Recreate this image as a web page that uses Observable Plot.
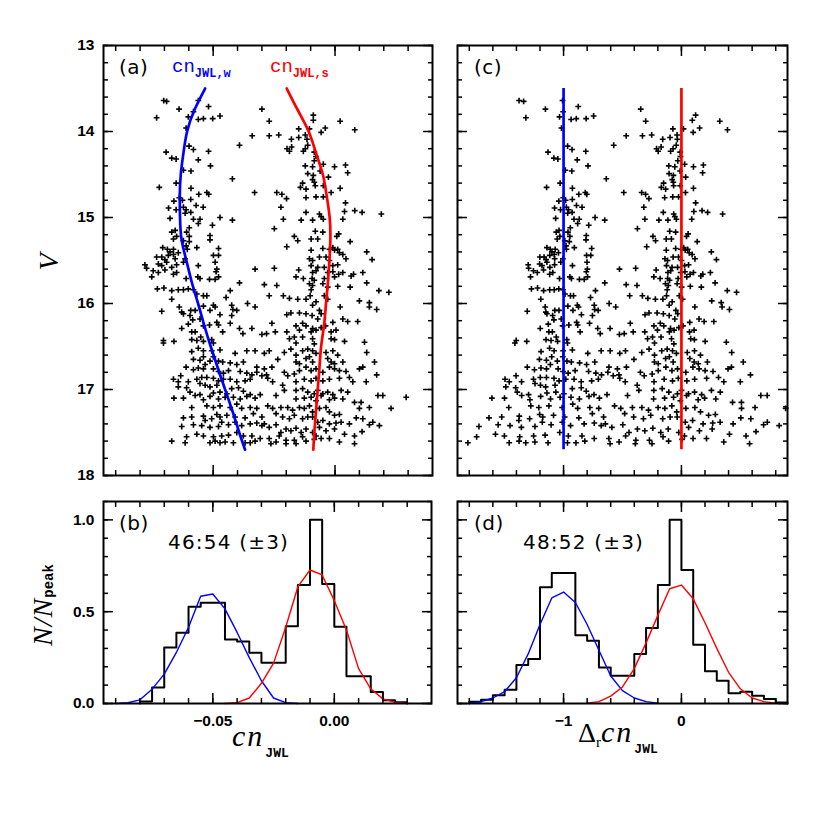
<!DOCTYPE html>
<html><head><meta charset="utf-8">
<script src="https://cdn.jsdelivr.net/npm/d3@7"></script>
<script src="https://cdn.jsdelivr.net/npm/@observablehq/plot@0.6"></script>
<style>
body{margin:0;background:#fff;}
#wrap{position:relative;width:830px;height:830px;background:#fff;}
.panel{position:absolute;}
.panel svg{max-width:none !important;}
#overlay{position:absolute;left:0;top:0;pointer-events:none;}
</style></head><body><div id="wrap"></div>
<script>
// ---------- DATA ----------
// Stars of panel (a): [cn_JWL, V]
const starsA = [
[-0.0703,13.64],[-0.0691,13.65],[-0.0640,13.74],[-0.0561,13.64],[-0.0519,13.71],[-0.0581,13.77],[-0.0732,13.84],[-0.0602,13.83],[-0.0561,13.86],[-0.0540,13.85],[-0.0502,13.85],[-0.0472,13.82],[-0.0300,13.74],[-0.0611,13.96],[-0.0340,14.05],[-0.0392,14.16],[-0.0599,14.17],[-0.0581,14.21],[-0.0693,14.24],[-0.0519,14.23],[-0.0670,14.31],[-0.0652,14.32],[-0.0561,14.33],[-0.0511,14.40],[-0.0622,14.45],[-0.0591,14.46],[-0.0421,14.55],[-0.0652,14.60],[-0.0721,14.65],[-0.0591,14.66],[-0.0559,14.73],[-0.0526,14.71],[-0.0518,14.73],[-0.0330,14.71],[-0.0639,14.77],[-0.0661,14.81],[-0.0626,14.80],[-0.0592,14.79],[-0.0683,14.89],[-0.0652,14.91],[-0.0622,14.88],[-0.0611,14.91],[-0.0570,14.86],[-0.0541,14.88],[-0.0592,14.94],[-0.0615,14.95],
[-0.0270,13.88],[-0.0270,14.05],[-0.0231,14.04],[-0.0089,13.81],[-0.0089,13.87],[0.0021,13.88],[-0.0149,13.97],[-0.0105,13.97],[-0.0040,13.96],[-0.0057,14.01],[0.0081,13.98],[-0.0179,14.09],[-0.0149,14.07],[-0.0122,14.04],[-0.0115,14.09],[-0.0197,14.20],[-0.0187,14.23],[-0.0178,14.18],[-0.0130,14.23],[-0.0122,14.20],[-0.0112,14.16],[-0.0085,14.24],[-0.0078,14.29],[-0.0085,14.34],[-0.0122,14.40],[-0.0048,14.38],[-0.0002,14.41],[0.0043,14.39],[-0.0092,14.41],[-0.0061,14.46],[0.0052,14.48],[-0.0112,14.49],[-0.0089,14.51],[-0.0027,14.53],[-0.0133,14.60],[-0.0085,14.59],[-0.0081,14.63],[-0.0092,14.56],[-0.0048,14.63],[0.0021,14.66],[-0.0142,14.65],[-0.0119,14.67],[-0.0239,14.71],[-0.0218,14.73],[-0.0199,14.78],[-0.0119,14.77],[-0.0078,14.76],[-0.0016,14.71],[-0.0048,14.76],[0.0043,14.83],[-0.0222,14.88],[-0.0119,14.94],[-0.0064,14.96],[0.0039,14.93],[0.0081,14.92],[0.0111,14.94],[0.0190,14.96],
[-0.0677,15.01],[-0.0581,15.02],[-0.0554,15.02],[-0.0472,15.00],[-0.0421,15.03],[-0.0598,15.12],[-0.0561,15.07],[-0.0503,15.09],[-0.0670,15.17],[-0.0656,15.15],[-0.0650,15.22],[-0.0663,15.25],[-0.0609,15.17],[-0.0598,15.22],[-0.0513,15.21],[-0.0513,15.26],[-0.0622,15.27],[-0.0598,15.28],[-0.0611,15.33],[-0.0707,15.35],[-0.0688,15.37],[-0.0677,15.40],[-0.0663,15.37],[-0.0643,15.41],[-0.0606,15.37],[-0.0567,15.35],[-0.0478,15.36],[-0.0732,15.46],[-0.0711,15.46],[-0.0698,15.49],[-0.0684,15.44],[-0.0663,15.43],[-0.0656,15.48],[-0.0615,15.48],[-0.0499,15.44],[-0.0478,15.44],[-0.0780,15.55],[-0.0773,15.59],[-0.0725,15.54],[-0.0711,15.56],[-0.0691,15.52],[-0.0670,15.58],[-0.0650,15.55],[-0.0622,15.52],[-0.0561,15.56],[-0.0492,15.52],[-0.0485,15.60],[-0.0746,15.62],[-0.0725,15.64],[-0.0698,15.61],[-0.0663,15.66],[-0.0650,15.64],[-0.0488,15.63],[-0.0752,15.69],[-0.0611,15.71],[-0.0563,15.69],[-0.0554,15.71],[-0.0515,15.72],[-0.0492,15.72],[-0.0478,15.69],[-0.0729,15.83],[-0.0702,15.82],[-0.0670,15.85],[-0.0643,15.84],[-0.0622,15.84],[-0.0602,15.83],[-0.0581,15.84],[-0.0567,15.89],[-0.0670,15.95],[-0.0540,15.91],[-0.0526,15.91],[-0.0447,15.93],[-0.0430,15.85],[-0.0392,15.76],[-0.0328,15.60],[-0.0711,16.09],[-0.0639,16.04],[-0.0629,16.10],[-0.0622,16.12],[-0.0592,16.08],[-0.0574,16.08],[-0.0540,16.03],[-0.0513,16.08],[-0.0499,16.02],[-0.0492,16.04],[-0.0472,16.13],[-0.0424,16.02],[-0.0419,16.07],[-0.0359,16.00],[-0.0328,16.04],[-0.0629,16.29],[-0.0602,16.24],[-0.0595,16.14],[-0.0584,16.19],[-0.0588,16.33],[-0.0574,16.33],[-0.0554,16.18],[-0.0540,16.26],[-0.0515,16.25],[-0.0485,16.22],[-0.0478,16.25],[-0.0461,16.33],[-0.0430,16.23],[-0.0424,16.14],[-0.0403,16.08],[-0.0392,16.29],[-0.0378,16.35],[-0.0341,16.29],[-0.0300,16.36],
[-0.0212,15.02],[-0.0139,15.03],[-0.0092,15.03],[-0.0057,14.99],[-0.0048,15.02],[0.0032,15.02],[-0.0249,15.13],[-0.0167,15.22],[-0.0153,15.27],[-0.0081,15.16],[-0.0050,15.17],[-0.0098,15.25],[-0.0071,15.25],[0.0015,15.19],[0.0062,15.28],[0.0007,15.22],[-0.0198,15.34],[-0.0098,15.38],[-0.0050,15.36],[-0.0023,15.37],[-0.0009,15.35],[0.0011,15.37],[0.0018,15.41],[-0.0002,15.38],[0.0032,15.43],[0.0045,15.48],[0.0130,15.40],[0.0152,15.49],[-0.0105,15.48],[-0.0092,15.50],[-0.0064,15.46],[-0.0037,15.46],[-0.0023,15.50],[-0.0044,15.58],[-0.0071,15.58],[-0.0009,15.56],[0.0011,15.55],[-0.0098,15.56],[-0.0249,15.59],[-0.0149,15.61],[-0.0092,15.64],[-0.0078,15.62],[-0.0030,15.64],[-0.0009,15.63],[0.0015,15.66],[0.0032,15.64],[0.0066,15.68],[0.0076,15.66],[0.0114,15.64],[-0.0160,15.69],[-0.0130,15.71],[-0.0094,15.71],[-0.0085,15.73],[-0.0044,15.71],[-0.0002,15.69],[-0.0290,15.78],[-0.0239,15.79],[-0.0105,15.77],[-0.0092,15.79],[-0.0098,15.84],[-0.0050,15.77],[-0.0030,15.81],[0.0011,15.80],[0.0062,15.81],[0.0130,15.76],[0.0180,15.85],[0.0221,15.87],[-0.0270,15.91],[-0.0212,15.91],[-0.0187,15.94],[-0.0153,15.95],[-0.0119,15.95],[-0.0102,15.91],[-0.0078,15.98],[-0.0092,16.02],[-0.0044,15.91],[-0.0030,15.95],[0.0021,16.04],[0.0100,15.97],[0.0141,15.99],[0.0141,16.04],[0.0171,16.07],[-0.0198,16.13],[-0.0181,16.11],[-0.0146,16.11],[-0.0119,16.12],[-0.0064,16.08],[-0.0057,16.12],[-0.0094,16.14],[-0.0071,16.18],[-0.0009,16.22],[0.0032,16.18],[0.0052,16.21],[0.0093,16.21],[-0.0281,16.35],[-0.0259,16.23],[-0.0245,16.33],[-0.0198,16.33],[-0.0160,16.26],[-0.0133,16.23],[-0.0146,16.31],[-0.0119,16.26],[-0.0092,16.29],[-0.0098,16.33],[-0.0078,16.31],[-0.0057,16.28],[-0.0039,16.26],[-0.0016,16.33],[0.0004,16.31],
[-0.0704,16.43],[-0.0704,16.46],[-0.0661,16.44],[-0.0588,16.42],[-0.0567,16.43],[-0.0551,16.39],[-0.0540,16.44],[-0.0499,16.46],[-0.0506,16.42],[-0.0472,16.54],[-0.0506,16.55],[-0.0588,16.56],[-0.0561,16.52],[-0.0540,16.55],[-0.0410,16.58],[-0.0362,16.55],[-0.0328,16.55],[-0.0581,16.65],[-0.0554,16.66],[-0.0540,16.62],[-0.0533,16.71],[-0.0513,16.67],[-0.0499,16.62],[-0.0478,16.67],[-0.0461,16.68],[-0.0430,16.69],[-0.0403,16.71],[-0.0376,16.68],[-0.0321,16.74],[-0.0611,16.74],[-0.0581,16.77],[-0.0561,16.75],[-0.0540,16.76],[-0.0499,16.76],[-0.0478,16.79],[-0.0458,16.81],[-0.0437,16.78],[-0.0389,16.79],[-0.0362,16.81],[-0.0341,16.83],[-0.0321,16.80],[-0.0300,16.84],[-0.0663,16.88],[-0.0643,16.91],[-0.0633,16.84],[-0.0602,16.91],[-0.0567,16.88],[-0.0547,16.86],[-0.0526,16.86],[-0.0499,16.87],[-0.0478,16.90],[-0.0458,16.88],[-0.0430,16.88],[-0.0403,16.91],[-0.0369,16.90],[-0.0348,16.88],[-0.0609,16.98],[-0.0554,16.93],[-0.0533,16.95],[-0.0513,16.97],[-0.0485,16.95],[-0.0499,17.04],[-0.0472,17.03],[-0.0444,17.05],[-0.0424,16.99],[-0.0396,16.98],[-0.0376,17.02],[-0.0348,17.06],[-0.0328,17.10],[-0.0307,17.06],[-0.0661,17.10],[-0.0622,17.10],[-0.0574,17.07],[-0.0554,17.06],[-0.0540,17.12],[-0.0513,17.08],[-0.0478,17.11],[-0.0451,17.09],[-0.0417,17.09],[-0.0389,17.11],[-0.0362,17.08],[-0.0588,17.21],[-0.0526,17.19],[-0.0499,17.21],[-0.0472,17.19],[-0.0430,17.21],[-0.0403,17.17],[-0.0383,17.22],[-0.0348,17.21],[-0.0321,17.22],[-0.0622,17.33],[-0.0588,17.32],[-0.0540,17.31],[-0.0533,17.36],[-0.0506,17.34],[-0.0485,17.29],[-0.0472,17.32],[-0.0444,17.30],[-0.0410,17.32],[-0.0369,17.33],[-0.0335,17.28],[-0.0300,17.32],[-0.0629,17.43],[-0.0581,17.41],[-0.0547,17.42],[-0.0513,17.44],[-0.0478,17.43],[-0.0465,17.38],[-0.0437,17.41],[-0.0410,17.38],[-0.0383,17.42],[-0.0348,17.40],[-0.0321,17.39],[-0.0300,17.42],[-0.0609,17.55],[-0.0567,17.52],[-0.0540,17.54],[-0.0499,17.55],[-0.0465,17.54],[-0.0437,17.53],[-0.0403,17.50],[-0.0376,17.54],[-0.0341,17.54],[-0.0307,17.57],[-0.0670,17.60],[-0.0615,17.62],[-0.0513,17.62],[-0.0492,17.60],[-0.0472,17.62],[-0.0451,17.61],[-0.0417,17.62],[-0.0369,17.62],[-0.0348,17.62],[-0.0328,17.60],[-0.0643,16.97],[-0.0595,17.03],
[-0.0187,16.41],[-0.0167,16.39],[-0.0160,16.46],[-0.0133,16.39],[-0.0092,16.41],[-0.0085,16.47],[-0.0016,16.41],[-0.0002,16.42],[0.0039,16.44],[0.0121,16.45],[-0.0290,16.58],[-0.0270,16.55],[-0.0235,16.65],[-0.0208,16.57],[-0.0181,16.53],[-0.0160,16.60],[-0.0133,16.55],[-0.0112,16.53],[-0.0092,16.55],[-0.0078,16.58],[-0.0037,16.57],[-0.0009,16.55],[0.0011,16.60],[0.0130,16.57],[-0.0259,16.74],[-0.0160,16.68],[-0.0146,16.70],[-0.0119,16.64],[-0.0105,16.62],[-0.0092,16.68],[-0.0030,16.64],[-0.0016,16.68],[-0.0002,16.70],[0.0032,16.68],[0.0162,16.68],[-0.0290,16.76],[-0.0281,16.83],[-0.0208,16.80],[-0.0194,16.84],[-0.0167,16.82],[-0.0146,16.78],[-0.0119,16.74],[-0.0098,16.78],[-0.0078,16.76],[-0.0050,16.80],[-0.0023,16.74],[-0.0002,16.76],[0.0018,16.78],[0.0045,16.79],[0.0100,16.76],[0.0114,16.74],[0.0171,16.83],[-0.0276,16.87],[-0.0256,16.91],[-0.0215,16.95],[-0.0160,16.91],[-0.0126,16.88],[-0.0098,16.90],[-0.0078,16.87],[-0.0050,16.90],[-0.0023,16.88],[0.0018,16.87],[0.0059,16.86],[0.0073,16.91],[0.0128,16.91],[-0.0208,17.01],[-0.0160,17.01],[-0.0133,16.99],[-0.0112,17.03],[-0.0085,17.05],[-0.0071,17.01],[-0.0050,17.05],[-0.0030,17.03],[-0.0009,17.06],[0.0025,17.01],[0.0052,17.03],[-0.0242,17.07],[-0.0160,17.11],[-0.0126,17.10],[-0.0098,17.09],[-0.0078,17.13],[-0.0057,17.07],[-0.0023,17.12],[-0.0002,17.10],[0.0032,17.11],[0.0080,17.15],[0.0107,17.15],[0.0176,17.07],[0.0196,17.07],[0.0292,17.09],[0.0230,17.22],[-0.0276,17.19],[-0.0256,17.22],[-0.0242,17.28],[-0.0222,17.21],[-0.0194,17.21],[-0.0174,17.24],[-0.0146,17.21],[-0.0126,17.22],[-0.0105,17.19],[-0.0092,17.26],[-0.0064,17.22],[-0.0037,17.21],[-0.0023,17.26],[-0.0002,17.30],[0.0018,17.29],[0.0100,17.22],[0.0141,17.21],[-0.0215,17.32],[-0.0187,17.34],[-0.0167,17.30],[-0.0133,17.34],[-0.0112,17.32],[-0.0092,17.32],[-0.0071,17.38],[-0.0050,17.36],[-0.0023,17.40],[0.0004,17.39],[0.0025,17.38],[0.0059,17.40],[0.0087,17.33],[0.0114,17.34],[0.0155,17.38],[0.0182,17.42],[-0.0290,17.40],[-0.0270,17.44],[-0.0242,17.41],[-0.0222,17.50],[-0.0201,17.46],[-0.0181,17.48],[-0.0160,17.45],[-0.0139,17.50],[-0.0119,17.46],[-0.0092,17.50],[-0.0064,17.44],[-0.0037,17.48],[-0.0002,17.46],[0.0039,17.52],[0.0080,17.54],[0.0111,17.49],[0.0141,17.41],[-0.0270,17.57],[-0.0263,17.63],[-0.0242,17.61],[-0.0229,17.54],[-0.0201,17.59],[-0.0201,17.63],[-0.0167,17.59],[-0.0160,17.63],[-0.0133,17.55],[-0.0119,17.60],[-0.0078,17.54],[-0.0085,17.58],[-0.0057,17.57],[-0.0023,17.57],[0.0018,17.61],[0.0080,17.63]
];

// Fiducial lines (V, cn of the weak and strong sequences)
const fidV = [13.5,13.75,14.0,14.25,14.5,14.75,15.0,15.25,15.5,15.75,16.0,16.25,16.5,16.75,17.0,17.25,17.5,17.7];
const fidW = [-0.0533,-0.0577,-0.0607,-0.0622,-0.0633,-0.0637,-0.0636,-0.0630,-0.0610,-0.0588,-0.0562,-0.0537,-0.0510,-0.0481,-0.0451,-0.0421,-0.0393,-0.0369];
const fidS = [-0.0198,-0.0153,-0.0108,-0.0078,-0.0050,-0.0034,-0.0022,-0.0019,-0.0023,-0.0029,-0.0037,-0.0045,-0.0057,-0.0064,-0.0071,-0.0078,-0.0085,-0.0089];

// Histogram (b): bins of 0.005 starting at -0.080
const histBStart = -0.080, histBWidth = 0.005;
const histB = [0.011,0.087,0.305,0.385,0.527,0.549,0.549,0.349,0.338,0.276,0.222,0.222,0.420,0.645,1.000,0.651,0.418,0.149,0.149,0.062,0.018,0.007];
// Gaussian fits (b)
const gaussBlueBx = [-0.090,-0.085,-0.080,-0.075,-0.070,-0.065,-0.060,-0.055,-0.050,-0.045,-0.040,-0.035,-0.030,-0.025,-0.020,-0.015];
const gaussBlueBy = [0.000,0.004,0.020,0.078,0.160,0.278,0.415,0.584,0.596,0.515,0.387,0.250,0.124,0.030,0.005,0.000];
const gaussRedBx = [-0.045,-0.040,-0.035,-0.030,-0.025,-0.020,-0.015,-0.010,-0.005,0.000,0.005,0.010,0.015,0.020,0.025,0.030];
const gaussRedBy = [0.000,0.005,0.030,0.110,0.220,0.415,0.636,0.727,0.700,0.560,0.400,0.190,0.080,0.025,0.006,0.000];

// Histogram (d): bins of 0.1 starting at -1.8
const histDStart = -1.8, histDWidth = 0.1;
const histD = [0.009,0.020,0.045,0.075,0.209,0.242,0.633,0.711,0.711,0.371,0.342,0.196,0.151,0.151,0.269,0.411,0.645,1.000,0.727,0.320,0.175,0.124,0.056,0.064,0.042,0.024,0.005];
const gaussBlueDx = [-1.8,-1.7,-1.6,-1.5,-1.4,-1.3,-1.2,-1.1,-1.0,-0.9,-0.8,-0.7,-0.6,-0.5,-0.4,-0.3,-0.2];
const gaussBlueDy = [0.003,0.010,0.030,0.065,0.140,0.270,0.430,0.575,0.607,0.550,0.430,0.290,0.150,0.070,0.030,0.010,0.002];
const gaussRedDx = [-0.8,-0.7,-0.6,-0.5,-0.4,-0.3,-0.2,-0.1,0.0,0.1,0.2,0.3,0.4,0.5,0.6,0.7,0.8];
const gaussRedDy = [0.002,0.010,0.040,0.090,0.190,0.330,0.480,0.625,0.645,0.570,0.440,0.300,0.170,0.080,0.030,0.010,0.002];

// Ticks
const vMajor = [13,14,15,16,17,18];
const nMajor = [0,0.5,1.0];
const nLabels = ["0.0","0.5","1.0"];
const cnMajor = [-0.05,0];
const cnLabels = ["\u22120.05","0.00"];
const dMajor = [-1,0];
const dLabels = ["\u22121","0"];
const vMinor = d3.range(13,18.001,0.2);
const nMinor = d3.range(0,1.101,0.1);
const cnMinor = d3.range(-0.09,0.0301,0.01);
const dMinor = d3.range(-1.8,0.801,0.2);

// ---------- HELPERS ----------
const BLUE = "#0000ff", RED = "#ff0000";
const plusSymbol = {draw(ctx, size){ const r = Math.sqrt(size/Math.PI); ctx.moveTo(-r,0); ctx.lineTo(r,0); ctx.moveTo(0,-r); ctx.lineTo(0,r); }};
function interp(xs, ys, x){
  if (x <= xs[0]) return ys[0];
  for (let i = 1; i < xs.length; i++) if (x <= xs[i]) { const t = (x - xs[i-1])/(xs[i]-xs[i-1]); return ys[i-1] + t*(ys[i]-ys[i-1]); }
  return ys[ys.length-1];
}
function stepPts(start, w, hs){
  const p = [{x:start, y:0}];
  hs.forEach((h,i) => { p.push({x:start+i*w, y:h}, {x:start+(i+1)*w, y:h}); });
  p.push({x:start+hs.length*w, y:0});
  return p;
}
function zipXY(xs, ys){ return xs.map((x,i)=>({x, y:ys[i]})); }
function frameTicks(xMaj, xMin, yMaj, yMin){
  const o = {tickFormat: () => "", label: null, strokeWidth: 1.5};
  return [
    Plot.axisX(xMaj, {...o, anchor:"bottom", tickSize:-10}),
    Plot.axisX(xMin, {...o, anchor:"bottom", tickSize:-5}),
    Plot.axisX(xMaj, {...o, anchor:"top", tickSize:-10}),
    Plot.axisX(xMin, {...o, anchor:"top", tickSize:-5}),
    Plot.axisY(yMaj, {...o, anchor:"left", tickSize:-10}),
    Plot.axisY(yMin, {...o, anchor:"left", tickSize:-5}),
    Plot.axisY(yMaj, {...o, anchor:"right", tickSize:-10}),
    Plot.axisY(yMin, {...o, anchor:"right", tickSize:-5}),
    Plot.frame({stroke:"black", strokeWidth:2})
  ];
}
const baseStyle = {fontFamily:"'Liberation Sans', Arial, sans-serif", fontSize:"15.5px", fontWeight:"bold", background:"transparent", color:"black"};
function mount(svg, left, top, w){
  const d = document.createElement("div"); d.className = "panel";
  d.style.left = left+"px"; d.style.top = top+"px"; d.style.width = w+"px";
  d.appendChild(svg); document.getElementById("wrap").appendChild(d);
}

// ---------- DERIVED ----------
const fidWData = fidV.map((v,i)=>({v, c: fidW[i]}));
const fidSData = fidV.map((v,i)=>({v, c: fidS[i]}));
const starsC = starsA.map(([c,v]) => { const w = interp(fidV,fidW,v), s = interp(fidV,fidS,v); return [(c - s)/(s - w), v]; })
  .filter(([d]) => d >= -1.9 && d <= 0.9);
const cnFmt = new Map(cnMajor.map((d,i)=>[d,cnLabels[i]]));
const dFmt = new Map(dMajor.map((d,i)=>[d,dLabels[i]]));
const nFmt = new Map(nMajor.map((d,i)=>[d,nLabels[i]]));

// ---------- PANEL (a) ----------
mount(Plot.plot({
  width:440, height:490, marginLeft:103, marginRight:8, marginTop:45, marginBottom:15,
  style: baseStyle,
  x:{domain:[-0.095,0.04], axis:null}, y:{domain:[18,13], axis:null},
  marks:[
    Plot.dot(starsA, {x:d=>d[0], y:d=>d[1], symbol:plusSymbol, r:2.9, fill:"none", stroke:"black", strokeWidth:1.6}),
    Plot.line(fidWData, {x:"c", y:"v", stroke:BLUE, strokeWidth:2.7, curve:"natural"}),
    Plot.line(fidSData, {x:"c", y:"v", stroke:RED, strokeWidth:2.7, curve:"natural"}),
    Plot.axisY(vMajor, {anchor:"left", tickSize:0, tickPadding:9, label:null, tickFormat:d=>String(d)}),
    ...frameTicks(cnMajor, cnMinor, vMajor, vMinor)
  ]
}), 0, 0, 440);

// ---------- PANEL (c) ----------
mount(Plot.plot({
  width:360, height:490, marginLeft:17, marginRight:13, marginTop:45, marginBottom:15,
  style: baseStyle,
  x:{domain:[-1.9,0.9], axis:null}, y:{domain:[18,13], axis:null},
  marks:[
    Plot.dot(starsC, {x:d=>d[0], y:d=>d[1], symbol:plusSymbol, r:2.9, fill:"none", stroke:"black", strokeWidth:1.6}),
    Plot.ruleX([-1], {y1:fidV[0], y2:fidV[fidV.length-1], stroke:BLUE, strokeWidth:2.7}),
    Plot.ruleX([0], {y1:fidV[0], y2:fidV[fidV.length-1], stroke:RED, strokeWidth:2.7}),
    ...frameTicks(dMajor, dMinor, vMajor, vMinor)
  ]
}), 440, 0, 360);

// ---------- PANEL (b) ----------
mount(Plot.plot({
  width:440, height:250, marginLeft:103, marginRight:9, marginTop:11, marginBottom:37,
  style: baseStyle,
  x:{domain:[-0.095,0.04], axis:null}, y:{domain:[0,1.1], axis:null},
  marks:[
    Plot.line(stepPts(histBStart, histBWidth, histB), {x:"x", y:"y", stroke:"black", strokeWidth:2}),
    Plot.line(zipXY(gaussBlueBx, gaussBlueBy), {x:"x", y:"y", stroke:BLUE, strokeWidth:1.4}),
    Plot.line(zipXY(gaussRedBx, gaussRedBy), {x:"x", y:"y", stroke:RED, strokeWidth:1.4}),
    Plot.axisY(nMajor, {anchor:"left", tickSize:0, tickPadding:9, label:null, tickFormat:d=>nFmt.get(d)}),
    Plot.axisX(cnMajor, {anchor:"bottom", tickSize:0, tickPadding:11, label:null, tickFormat:d=>cnFmt.get(d)}),
    ...frameTicks(cnMajor, cnMinor, nMajor, nMinor)
  ]
}), 0, 490, 440);

// ---------- PANEL (d) ----------
mount(Plot.plot({
  width:360, height:250, marginLeft:17, marginRight:13, marginTop:11, marginBottom:37,
  style: baseStyle,
  x:{domain:[-1.9,0.9], axis:null}, y:{domain:[0,1.1], axis:null},
  marks:[
    Plot.line(stepPts(histDStart, histDWidth, histD), {x:"x", y:"y", stroke:"black", strokeWidth:2}),
    Plot.line(zipXY(gaussBlueDx, gaussBlueDy), {x:"x", y:"y", stroke:BLUE, strokeWidth:1.4}),
    Plot.line(zipXY(gaussRedDx, gaussRedDy), {x:"x", y:"y", stroke:RED, strokeWidth:1.4}),
    Plot.axisX(dMajor, {anchor:"bottom", tickSize:0, tickPadding:11, label:null, tickFormat:d=>dFmt.get(d)}),
    ...frameTicks(dMajor, dMinor, nMajor, nMinor)
  ]
}), 440, 490, 360);

// ---------- TEXT OVERLAY ----------
const ov = `
<svg id="overlay" width="830" height="830" xmlns="http://www.w3.org/2000/svg">
 <g font-family="'DejaVu Sans', sans-serif" font-size="20" fill="black" letter-spacing="0.5">
  <text x="119" y="74">(a)</text>
  <text x="474" y="74">(c)</text>
  <text x="119" y="530">(b)</text>
  <text x="474" y="530">(d)</text>
  <text x="168" y="549" letter-spacing="1.2">46:54 (±3)</text>
  <text x="523" y="549" letter-spacing="1.2">48:52 (±3)</text>
 </g>
 <g font-family="'Liberation Mono', monospace">
  <text x="172" y="72" fill="${BLUE}" font-size="19">cn<tspan font-size="12" font-weight="bold" dy="5">JWL,w</tspan></text>
  <text x="270" y="72" fill="${RED}" font-size="19">cn<tspan font-size="12" font-weight="bold" dy="5">JWL,s</tspan></text>
 </g>
 <text transform="translate(58,262) rotate(-90)" text-anchor="middle" font-family="'Liberation Serif', serif" font-style="italic" font-size="28">V</text>
 <text transform="translate(52,605) rotate(-90)" text-anchor="middle" font-family="'Liberation Serif', serif" font-style="italic" font-size="28" letter-spacing="1">N/N<tspan font-family="'Liberation Mono', monospace" font-style="normal" font-weight="bold" font-size="14" dy="1" letter-spacing="0">peak</tspan></text>
 <text x="232" y="746" font-family="'Liberation Serif', serif" font-style="italic" font-size="30" letter-spacing="2">cn<tspan font-family="'Liberation Mono', monospace" font-style="normal" font-weight="bold" font-size="13" dx="1" dy="11" letter-spacing="0">JWL</tspan></text>
 <text x="578" y="742" font-family="'Liberation Serif', serif" font-size="28">Δ<tspan font-size="15" dy="5">r</tspan><tspan font-style="italic" font-size="30" dy="-5" letter-spacing="2">cn</tspan><tspan font-family="'Liberation Mono', monospace" font-weight="bold" font-size="13" dx="1" dy="11" letter-spacing="0">JWL</tspan></text>
</svg>`;
document.getElementById("wrap").insertAdjacentHTML("beforeend", ov);
</script>
</body></html>
